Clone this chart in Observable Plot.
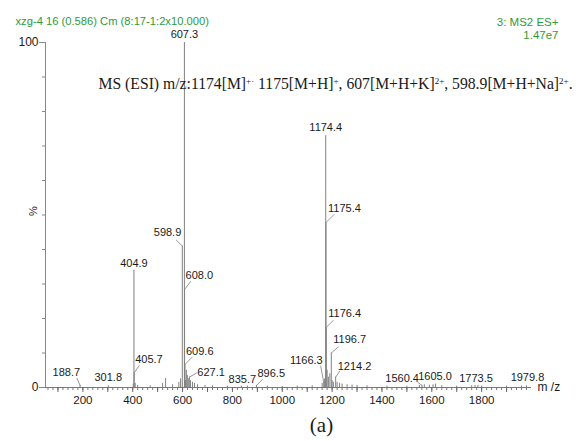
<!DOCTYPE html>
<html>
<head>
<meta charset="utf-8">
<script src="https://cdn.jsdelivr.net/npm/d3@7"></script>
<script src="https://cdn.jsdelivr.net/npm/@observablehq/plot@0.6"></script>
<style>
  html, body { margin: 0; padding: 0; background: #fff; }
  #chart { width: 576px; height: 441px; }
</style>
</head>
<body>
<div id="chart"></div>
<script>
// ---- data ----
const labeledMz = [188.7, 301.8, 404.9, 405.7, 598.9, 607.3, 608.0, 609.6, 627.1, 835.7, 896.5,
  1166.3, 1174.4, 1175.4, 1176.4, 1196.7, 1214.2, 1560.4, 1605.0, 1773.5, 1979.8];
const labeledIntensity = [0.6, 0.5, 34, 4.3, 41, 100, 28.4, 6.7, 3, 0.4, 0.6,
  1.5, 73, 47.8, 17.4, 10, 3, 0.6, 0.8, 0.6, 0.5];
const minorMz = [402, 410, 420, 470, 520, 532, 560, 585, 592, 612, 615, 619, 623, 632, 640, 648,
  660, 690, 720, 780, 860, 940, 1000, 1060, 1120, 1160, 1170, 1180, 1185, 1191, 1200, 1205,
  1220, 1230, 1240, 1260, 1280, 1300, 1340, 1420, 1500, 1550, 1570, 1590, 1615, 1640, 1700,
  1760, 1785, 1800, 1900, 1960];
const minorIntensity = [1.0, 1.2, 0.6, 0.5, 1.2, 2.6, 0.8, 1.5, 2.5, 2, 5, 3.5, 2.5, 2, 1.5, 1.2,
  0.8, 0.6, 0.5, 0.4, 0.4, 0.4, 0.3, 0.4, 0.5, 1.2, 2.5, 5, 3, 4, 2, 1.5,
  1.5, 1.2, 1, 0.8, 0.7, 0.6, 0.5, 0.4, 0.4, 0.6, 0.8, 0.7, 1.0, 0.5, 0.4,
  0.5, 0.6, 0.4, 0.4, 0.4];
const xTickLabels = [200, 400, 600, 800, 1000, 1200, 1400, 1600, 1800];
const yTickLabels = [0, 100];
const titleLeft = "xzg-4 16 (0.586) Cm (8:17-1:2x10.000)";
const titleRight1 = "3: MS2 ES+";
const titleRight2 = "1.47e7";
const annotationParts = [
  ["MS (ESI) m/z:1174[M]", false], ["+·", true], [" 1175[M+H]", false], ["+", true],
  [", 607[M+H+K]", false], ["2+", true], [", 598.9[M+H+Na]", false], ["2+", true], [".", false]
];
const caption = "(a)";
const xUnit = "m /z";

// ---- label layout (pixel offsets: text dx, dy, anchor, leader end lx, ly) ----
const labelLayout = {
  "188.7": [0, -13, "end", -3, -7],
  "301.8": [0, -8, "middle", 0, 0],
  "404.9": [0, -7, "middle", 0, 0],
  "405.7": [1, -13, "start", 5, -7],
  "598.9": [-1, -14, "end", -6, -6],
  "607.3": [0, -8, "middle", 0, 0],
  "608.0": [1, -14, "start", 6, -8],
  "609.6": [1, -13, "start", 7, -7],
  "627.1": [8, -5, "start", 7, -4],
  "835.7": [1, -7, "middle", 0, 0],
  "896.5": [1, -12, "start", 6, -6],
  "1166.3": [-1, -22, "end", -3, -16],
  "1174.4": [0, -8, "middle", 0, 0],
  "1175.4": [2, -14, "start", 8, -8],
  "1176.4": [2, -14, "start", 7, -7],
  "1196.7": [2, -14, "start", 7, -6],
  "1214.2": [2, -11, "start", 4, -6],
  "1560.4": [-3, -7, "end", -4, -3],
  "1605.0": [2, -8, "middle", 0, 0],
  "1773.5": [1, -7, "middle", 0, 0],
  "1979.8": [1, -8, "middle", 0, 0]
};

const labeled = labeledMz.map((mz, i) => ({mz, i: labeledIntensity[i], label: mz.toFixed(1)}));
const minor = minorMz.map((mz, i) => ({mz, i: minorIntensity[i]}));
const peaks = labeled.concat(minor);

const leaderShape = {draw(context, l) { context.moveTo(0, 0); context.lineTo(0, -l); }};
const textColor = "#1a1a1a";
const green = "#2f9a3a";

const labelMarks = [];
for (const d of labeled) {
  const [tx, ty, anchor, lx, ly] = labelLayout[d.label];
  labelMarks.push(Plot.text([d], {x: "mz", y: "i", text: "label", dx: tx, dy: ty,
    textAnchor: anchor, fill: textColor, fontSize: 11}));
  if (lx !== 0 || ly !== 0) {
    labelMarks.push(Plot.vector([d], {x: "mz", y: "i", anchor: "start", shape: leaderShape,
      length: Math.hypot(lx, ly), rotate: Math.atan2(lx, -ly) * 180 / Math.PI,
      stroke: "#888", strokeWidth: 0.8}));
  }
}

const plot = Plot.plot({
  width: 576,
  height: 441,
  marginLeft: 45,
  marginRight: 45,
  marginTop: 42,
  marginBottom: 54,
  style: {fontFamily: "'Liberation Sans', Arial, sans-serif", fontSize: "11px", background: "#fff", color: textColor},
  x: {domain: [50, 2000], label: null},
  y: {domain: [0, 100], label: null},
  marks: [
    Plot.ruleX(peaks, {x: "mz", y1: 0, y2: "i", stroke: "#808080", strokeWidth: 1}),
    Plot.ruleY([0], {stroke: "#777"}),
    Plot.ruleX([50], {y1: 0, y2: 100, stroke: "#888"}),
    Plot.axisX(d3.range(60, 2000, 20), {tickSize: 3, tickFormat: () => "", stroke: "#777"}),
    Plot.axisX(d3.range(100, 2000, 100), {tickSize: 5, tickFormat: () => "", stroke: "#666"}),
    Plot.axisX(xTickLabels, {tickSize: 0, tickPadding: 8, tickFormat: d => String(d), fill: textColor, fontSize: 11.5}),
    Plot.axisY(d3.range(0, 101, 10), {tickSize: 3, tickFormat: () => "", stroke: "#888"}),
    Plot.axisY(yTickLabels, {tickSize: 6, tickPadding: 1, tickFormat: d => String(d), stroke: "#888", fill: textColor, fontSize: 12}),
    Plot.text(["%"], {frameAnchor: "left", dx: -12, dy: 1, rotate: -90, fontSize: 11, fill: textColor}),
    Plot.text([xUnit], {frameAnchor: "bottom-right", dx: 6, dy: 3, textAnchor: "start", fontSize: 12, fill: textColor}),
    ...labelMarks,
    Plot.text([titleLeft], {frameAnchor: "top-left", dx: -30, dy: -25, textAnchor: "start", fontSize: 11.2, fill: green}),
    Plot.text([titleRight1], {frameAnchor: "top-right", dx: 27, dy: -25, textAnchor: "end", fontSize: 11.5, fill: green}),
    Plot.text([titleRight2], {frameAnchor: "top-right", dx: 27, dy: -12, textAnchor: "end", fontSize: 11.5, fill: green}),
    Plot.text([annotationParts.map(p => p[0]).join("")], {frameAnchor: "top-left", dx: 53, dy: 35,
      textAnchor: "start", fontSize: 15.7, fontFamily: "'Liberation Serif', 'Times New Roman', serif",
      fill: textColor, className: "annot"}),
    Plot.text([caption], {frameAnchor: "bottom", dx: 33, dy: 44, fontSize: 21,
      fontFamily: "'Liberation Serif', 'Times New Roman', serif", fill: textColor})
  ]
});

// superscripts in the annotation
d3.select(plot).selectAll("g.annot text").each(function() {
  const t = d3.select(this);
  t.text(null);
  for (const [s, sup] of annotationParts) {
    const span = t.append("tspan").text(s);
    if (sup) span.attr("baseline-shift", "super").attr("font-size", "9px");
  }
});

document.getElementById("chart").appendChild(plot);
</script>
</body>
</html>
